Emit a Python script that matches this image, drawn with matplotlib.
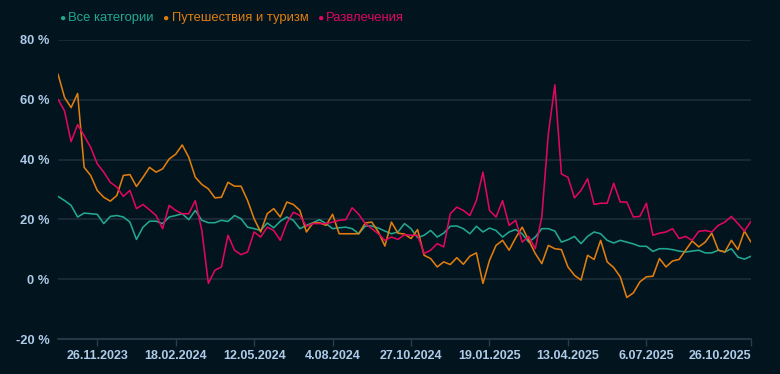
import matplotlib
matplotlib.use("Agg")
import matplotlib.pyplot as plt
import pandas as pd

# ---- data (weekly) ----
dates = pd.date_range("2023-10-15", "2025-10-26", freq="7D")

all_categories = [
    27.7, 26.3, 24.7, 20.8, 22.1, 21.9, 21.7, 18.6, 21.0, 21.3, 20.8, 19.1, 13.3, 17.4, 19.4, 19.4, 18.6, 20.8, 21.3,
    21.9, 19.9, 23.0, 19.7, 18.9, 18.9, 19.7, 19.3, 21.3, 20.2, 17.4, 16.9, 16.3, 18.8, 17.2, 19.4, 20.8,
    19.7, 16.9, 18.0, 18.9, 19.9, 18.6, 16.9, 17.2, 17.4, 16.9, 15.2, 17.8, 17.8, 17.1, 16.1, 15.2, 15.8, 18.6,
    16.9, 13.9, 14.7, 16.3, 14.1, 15.4, 17.7, 17.8, 16.9, 15.2, 17.7, 15.8, 17.1, 16.3, 14.1, 15.8, 16.6,
    15.2, 12.4, 14.1, 16.9, 16.9, 16.1, 12.4, 13.2, 14.3, 11.9, 14.3, 15.8, 15.2, 13.0, 12.1, 13.0, 12.4, 11.8,
    11.0, 11.0, 9.3, 10.2, 10.2, 9.9, 9.4, 9.1, 9.4, 9.7, 8.8, 8.8, 9.7, 9.1, 10.2, 7.4, 6.7, 7.7,
]
travel = [
    68.6, 60.8, 57.4, 62.1, 37.4, 34.7, 29.7, 27.4, 26.1, 28.0, 34.7, 35.0, 31.0, 34.1, 37.4, 35.8, 36.9, 40.2, 41.8,
    44.9, 40.8, 34.1, 31.7, 30.2, 27.2, 27.4, 32.4, 31.1, 31.1, 26.3, 20.2, 15.8, 21.9, 23.6, 20.8, 25.8,
    25.0, 23.0, 15.8, 18.8, 18.9, 18.0, 21.7, 15.2, 15.2, 15.2, 15.2, 18.8, 19.1, 15.8, 11.1, 19.1, 15.4, 15.1,
    13.6, 16.6, 8.0, 6.9, 4.1, 5.8, 4.9, 7.2, 5.0, 7.7, 8.8, -1.4, 6.3, 11.3, 13.0, 9.7, 13.8,
    17.4, 13.0, 8.6, 5.2, 11.3, 10.2, 9.9, 4.1, 1.3, -0.3, 8.0, 6.6, 13.0, 5.8, 3.9, 0.8, -6.1, -4.6,
    -0.9, 0.8, 1.0, 6.9, 4.1, 6.1, 6.6, 9.7, 12.8, 10.8, 12.4, 15.4, 9.7, 9.1, 13.0, 9.9, 16.1, 12.4,
]
entertainment = [
    60.2, 56.3, 46.0, 51.7, 48.0, 44.1, 38.6, 35.8, 32.4, 30.8, 27.7, 29.7, 23.6, 25.0, 23.2, 21.3, 16.9, 24.7, 23.0,
    21.9, 21.9, 26.3, 16.3, -1.4, 3.0, 4.1, 14.7, 9.7, 8.2, 9.1, 15.8, 14.1, 17.4, 16.3, 13.0, 18.8,
    22.4, 21.3, 17.7, 18.6, 18.6, 18.6, 19.1, 19.7, 19.9, 23.9, 21.7, 18.6, 16.9, 15.2, 13.0, 14.1, 13.3, 14.9,
    14.7, 14.7, 8.6, 9.7, 11.9, 10.8, 21.9, 24.1, 23.0, 21.3, 26.3, 35.8, 23.0, 20.8, 26.3, 18.0, 19.7,
    12.4, 14.3, 10.2, 20.8, 48.6, 65.0, 35.2, 34.1, 27.2, 29.7, 33.6, 25.0, 25.4, 25.4, 32.1, 25.8, 25.8, 20.8,
    21.0, 25.4, 14.7, 15.4, 15.8, 16.9, 13.6, 14.3, 13.0, 16.0, 16.3, 15.8, 18.0, 19.1, 21.0, 18.6, 16.1, 19.4,
]

series_names = ["Все категории", "Путешествия и туризм", "Развлечения"]
series_values = [all_categories, travel, entertainment]
series_colors = ["#22a791", "#e07d0e", "#e0075d"]

tick_dates = ["2023-11-26", "2024-02-18", "2024-05-12", "2024-08-04", "2024-10-27",
              "2025-01-19", "2025-04-13", "2025-07-06", "2025-10-26"]
y_ticks = [-20, 0, 20, 40, 60, 80]

# ---- style ----
BG = "#02141e"
GRID = "#1d2e3a"
LABEL = "#aecbe8"
FONT = ["Liberation Sans", "DejaVu Sans"]
plt.rcParams["font.family"] = FONT

fig = plt.figure(figsize=(7.8, 3.74), dpi=100, facecolor=BG)
ax = fig.add_axes([58 / 780, (374 - 339) / 374, (751 - 58) / 780, (339 - 40) / 374])
ax.set_facecolor(BG)

for vals, col, name in zip(series_values, series_colors, series_names):
    ax.plot(dates, vals, color=col, lw=1.15, solid_joinstyle="round",
            solid_capstyle="round", label=name, zorder=3)

ax.set_xlim(dates[0], dates[-1])
ax.set_ylim(-20, 80)
ax.set_yticks(y_ticks)
ax.set_yticklabels([f"{v} %" for v in y_ticks])
ax.yaxis.grid(True, color=GRID, lw=1.2, zorder=0)
ax.xaxis.grid(False)

td = pd.to_datetime(tick_dates)
ax.set_xticks(td)
ax.set_xticklabels([f"{d.day}.{d.month:02d}.{d.year}" for d in td])

for s in ["top", "right", "left"]:
    ax.spines[s].set_visible(False)
ax.spines["bottom"].set_color("#2a3d4b")
ax.spines["bottom"].set_linewidth(1.2)

ax.tick_params(axis="y", length=0, pad=6, labelsize=9.3, labelcolor=LABEL)
ax.tick_params(axis="x", length=5, width=1, color="#2a3d4b", pad=3, labelsize=9.0, labelcolor=LABEL)
for lab in ax.get_yticklabels() + ax.get_xticklabels():
    lab.set_fontweight("bold")
ax.get_xticklabels()[-1].set_horizontalalignment("right")

# ---- legend (manual, top-left) ----
fig.canvas.draw()
renderer = fig.canvas.get_renderer()
x = 58
y = 374 - 18
for name, col in zip(series_names, series_colors):
    fig.text((x + 4) / 780, y / 374, "●", color=col, fontsize=7.5, ha="center", va="center")
    t = fig.text((x + 10) / 780, y / 374, name, color=col, fontsize=9.4, ha="left", va="center")
    bb = t.get_window_extent(renderer)
    x = bb.x1 + 8

fig.savefig("out.png", dpi=100, facecolor=BG)
